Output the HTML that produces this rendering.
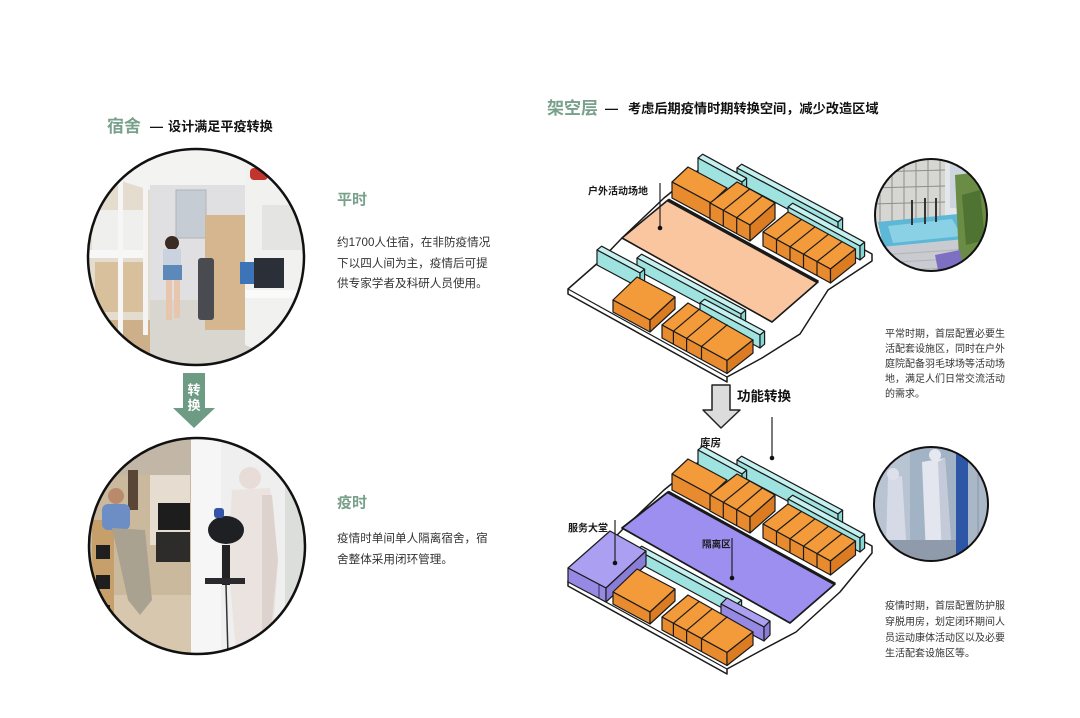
<!DOCTYPE html>
<html><head><meta charset="utf-8">
<style>
html,body{margin:0;padding:0;background:#fff;}
svg{display:block;}
text{font-family:"Liberation Sans","Noto Sans CJK SC",sans-serif;}
</style></head>
<body>
<svg width="1080" height="718" viewBox="0 0 1080 718" xmlns="http://www.w3.org/2000/svg">
<defs>
<clipPath id="c1"><circle cx="196" cy="257" r="108"/></clipPath>
<clipPath id="c2"><circle cx="197" cy="546" r="108"/></clipPath>
<clipPath id="c3"><circle cx="931" cy="215" r="56"/></clipPath>
<clipPath id="c4"><circle cx="931" cy="504" r="57"/></clipPath>
</defs>
<rect width="1080" height="718" fill="#fff"/>

<!-- ===== LEFT TITLES ===== -->
<text x="107" y="132" font-size="17" font-weight="bold" fill="#78a08b">宿舍</text>
<text x="150" y="131" font-size="13" font-weight="bold" fill="#111">—</text>
<text x="168" y="131" font-size="13.1" font-weight="bold" fill="#111">设计满足平疫转换</text>

<!-- ===== CIRCLE 1 ===== -->
<g clip-path="url(#c1)">
<rect x="85" y="145" width="225" height="225" fill="#e8e6e2"/>
<polygon points="85,145 310,145 262,205 150,205" fill="#f3f3f2"/>
<rect x="150" y="185" width="95" height="120" fill="#e0e0e2"/>
<rect x="176" y="190" width="30" height="48" fill="#c6ccd4" stroke="#b0b4ba"/>
<polygon points="150,300 245,300 270,370 120,370" fill="#d9d5cf"/>
<polygon points="85,170 150,190 150,320 85,370" fill="#e4dccf"/>
<rect x="92" y="210" width="55" height="40" fill="#efefed"/>
<rect x="88" y="250" width="60" height="8" fill="#f7f7f7"/>
<rect x="95" y="262" width="50" height="50" fill="#d8c09c"/>
<rect x="90" y="320" width="60" height="50" fill="#cdb089"/>
<rect x="118" y="175" width="5" height="190" fill="#f6f6f6"/>
<rect x="143" y="185" width="5" height="150" fill="#f4f4f4"/>
<rect x="205" y="215" width="42" height="115" fill="#d5b68e"/>
<polygon points="245,165 310,150 310,370 245,345" fill="#f1f1ef"/>
<rect x="262" y="205" width="40" height="45" fill="#e4e4e2"/>
<rect x="254" y="258" width="30" height="30" fill="#2b2f38"/>
<rect x="240" y="262" width="14" height="22" fill="#3d74b8"/>
<rect x="245" y="290" width="60" height="8" fill="#fafafa"/>
<rect x="250" y="168" width="18" height="12" rx="4" fill="#c3352c"/>
<circle cx="172" cy="243" r="7" fill="#3b2b22"/>
<rect x="163" y="249" width="18" height="18" fill="#c9d2de"/>
<rect x="163" y="265" width="19" height="15" fill="#5d88ba"/>
<rect x="166" y="280" width="6" height="40" fill="#e8c6ad"/>
<rect x="174" y="280" width="6" height="38" fill="#e8c6ad"/>
<rect x="198" y="258" width="16" height="62" rx="3" fill="#4a4b50"/>
</g>
<circle cx="196" cy="257" r="108" fill="none" stroke="#111" stroke-width="2.5"/>

<!-- ===== GREEN ARROW ===== -->
<rect x="183" y="373" width="22" height="36" fill="#6e9b84"/>
<polygon points="173,408 215,408 194,428" fill="#6e9b84"/>
<text x="194" y="394.5" font-size="13" font-weight="bold" fill="#fff" text-anchor="middle">转</text>
<text x="194" y="410" font-size="13" font-weight="bold" fill="#fff" text-anchor="middle">换</text>

<!-- ===== CIRCLE 2 ===== -->
<g clip-path="url(#c2)">
<rect x="85" y="435" width="230" height="225" fill="#efefef"/>
<rect x="85" y="435" width="106" height="225" fill="#cbb99e"/>
<rect x="85" y="435" width="106" height="40" fill="#c2b6a6"/>
<rect x="150" y="475" width="40" height="70" fill="#e6ddd0"/>
<rect x="158" y="503" width="32" height="27" fill="#1d1d1d"/>
<rect x="156" y="532" width="34" height="30" fill="#2e2c2a"/>
<rect x="85" y="595" width="106" height="65" fill="#d7c7ae"/>
<rect x="92" y="520" width="22" height="140" fill="#c79f6b"/>
<rect x="96" y="545" width="14" height="14" fill="#1f1f1f"/>
<rect x="96" y="575" width="14" height="14" fill="#1f1f1f"/>
<rect x="96" y="605" width="14" height="14" fill="#1f1f1f"/>
<rect x="128" y="470" width="10" height="40" fill="#5a4636"/>
<circle cx="116" cy="496" r="8" fill="#b98b6c"/>
<rect x="102" y="504" width="28" height="26" rx="6" fill="#6c8ec4"/>
<polygon points="112,528 145,530 152,600 140,615 128,600" fill="#aaa290"/>
<rect x="191" y="435" width="30" height="225" fill="#f6f6f6"/>
<rect x="285" y="435" width="30" height="225" fill="#dcdedc"/>
<circle cx="250" cy="478" r="11" fill="#e8dcd8"/>
<polygon points="232,490 270,488 278,560 272,650 236,650 228,560" fill="#ebe3df"/>
<polygon points="262,495 272,495 278,560 270,640 262,640" fill="#ddd2cd"/>
<ellipse cx="226" cy="530" rx="18" ry="14" fill="#1f2024"/>
<rect x="214" y="508" width="10" height="10" rx="3" fill="#3454a8"/>
<rect x="222" y="545" width="8" height="40" fill="#222"/>
<rect x="205" y="578" width="40" height="6" fill="#2a2a2e"/>
<line x1="226" y1="585" x2="228" y2="655" stroke="#333" stroke-width="1.5"/>
</g>
<circle cx="197" cy="546" r="108" fill="none" stroke="#111" stroke-width="2.5"/>

<!-- ===== LEFT TEXT ===== -->
<text x="337" y="204.5" font-size="15" font-weight="bold" fill="#78a08b">平时</text>
<text x="337" y="246" font-size="11.6" fill="#333">约1700人住宿，在非防疫情况</text>
<text x="337" y="267" font-size="11.6" fill="#333">下以四人间为主，疫情后可提</text>
<text x="337" y="287" font-size="11.6" fill="#333">供专家学者及科研人员使用。</text>

<text x="337" y="507.5" font-size="15" font-weight="bold" fill="#78a08b">疫时</text>
<text x="337" y="542" font-size="11.6" fill="#333">疫情时单间单人隔离宿舍，宿</text>
<text x="337" y="563" font-size="11.6" fill="#333">舍整体采用闭环管理。</text>

<!-- ===== RIGHT TITLE ===== -->
<text x="547" y="114" font-size="17" font-weight="bold" fill="#78a08b">架空层</text>
<text x="605" y="113" font-size="13" font-weight="bold" fill="#111">—</text>
<text x="628" y="113" font-size="13.2" font-weight="bold" fill="#111">考虑后期疫情时期转换空间，减少改造区域</text>

<!-- ===== UPPER DIAGRAM ===== -->
<g stroke="#1a1a1a" stroke-width="1.2" stroke-linejoin="round">
<polygon points="568,289 600,261 622,238 664,198 706,164 872,254 872,261 828,290 800,334 762,358 727,377 727,382 568,294" fill="#fff" stroke-width="1.5"/>
<line x1="568" y1="289" x2="727" y2="377"/>
<polygon points="668,200 818,282 772,322 622,238" fill="#f9c6a0" stroke-width="1.6"/>
<line x1="668" y1="200" x2="818" y2="282" stroke-width="3.5"/>

<polygon points="737,168 838,222 842.6,218.2 741.6,164.2" fill="#c4f1ef"/>
<polygon points="737,168 838,222 838,236 737,182" fill="#9fe3e1"/>
<polygon points="838,222 842.6,218.2 842.6,232.2 838,236" fill="#86d6d4"/>
<polygon points="698,158 742,182 746.6,178.2 702.6,154.2" fill="#c4f1ef"/>
<polygon points="698,158 742,182 742,200 698,176" fill="#9fe3e1"/>
<polygon points="742,182 746.6,178.2 746.6,196.2 742,200" fill="#86d6d4"/>
<polygon points="788,207 860,246 864.6,242.2 792.6,203.2" fill="#c4f1ef"/>
<polygon points="788,207 860,246 860,260 788,221" fill="#9fe3e1"/>
<polygon points="860,246 864.6,242.2 864.6,256.2 860,260" fill="#86d6d4"/>

<polygon points="672,182 711,203 727,188 688,167" fill="#f39a3b"/>
<polygon points="672,182 711,203 711,219 672,198" fill="#e88a2e"/>
<polygon points="710,203 750,225 775,203 737,182" fill="#f39a3b"/>
<polygon points="710,203 750,225 750,241 710,219" fill="#e88a2e"/>
<polygon points="750,225 775,203 775,219 750,241" fill="#dc7c22"/>
<line x1="723.3" y1="210.3" x2="749.7" y2="189"/>
<line x1="736.7" y1="217.7" x2="762.3" y2="196"/>
<line x1="723.3" y1="210.3" x2="723.3" y2="226.3"/>
<line x1="736.7" y1="217.7" x2="736.7" y2="233.7"/>

<polygon points="763,232 830.5,269 855.5,249 788,212" fill="#f39a3b"/>
<polygon points="763,232 830.5,269 830.5,283 763,246" fill="#e88a2e"/>
<polygon points="830.5,269 855.5,249 855.5,263 830.5,283" fill="#dc7c22"/>
<line x1="776.5" y1="239.4" x2="801.5" y2="219.4"/>
<line x1="790" y1="246.8" x2="815" y2="226.8"/>
<line x1="803.5" y1="254.2" x2="828.5" y2="234.2"/>
<line x1="817" y1="261.6" x2="842" y2="241.6"/>
<line x1="776.5" y1="239.4" x2="776.5" y2="253.4"/>
<line x1="790" y1="246.8" x2="790" y2="260.8"/>
<line x1="803.5" y1="254.2" x2="803.5" y2="268.2"/>
<line x1="817" y1="261.6" x2="817" y2="275.6"/>

<polygon points="637,258 741,314 745.6,310.2 641.6,254.2" fill="#c4f1ef"/>
<polygon points="637,258 741,314 741,326 637,270" fill="#9fe3e1"/>
<polygon points="741,314 745.6,310.2 745.6,322.2 741,326" fill="#86d6d4"/>
<polygon points="700,303 760,335 764.6,331.2 704.6,299.2" fill="#c4f1ef"/>
<polygon points="700,303 760,335 760,348 700,316" fill="#9fe3e1"/>
<polygon points="760,335 764.6,331.2 764.6,344.2 760,348" fill="#86d6d4"/>
<polygon points="597,250 640,273 644.6,269.2 601.6,246.2" fill="#c4f1ef"/>
<polygon points="597,250 640,273 640,288 597,265" fill="#9fe3e1"/>
<polygon points="640,273 644.6,269.2 644.6,284.2 640,288" fill="#86d6d4"/>

<polygon points="613,300 650,320 675,297 637,277" fill="#f39a3b"/>
<polygon points="613,300 650,320 650,332 613,312" fill="#e88a2e"/>
<polygon points="650,320 675,297 675,309 650,332" fill="#dc7c22"/>
<polygon points="662,325 727,360.5 753,340 688,303" fill="#f39a3b"/>
<polygon points="662,325 727,360.5 727,373.5 662,338" fill="#e88a2e"/>
<polygon points="727,360.5 753,340 753,353 727,373.5" fill="#dc7c22"/>
<line x1="673.4" y1="331.2" x2="699.4" y2="309.2"/>
<line x1="686.6" y1="338.4" x2="712.6" y2="316.4"/>
<line x1="701.5" y1="346.6" x2="727.5" y2="324.6"/>
<line x1="673.4" y1="331.2" x2="673.4" y2="344.2"/>
<line x1="686.6" y1="338.4" x2="686.6" y2="351.4"/>
<line x1="701.5" y1="346.6" x2="701.5" y2="359.6"/>
</g>
<text x="588" y="194.5" font-size="10" font-weight="bold" fill="#1a1a1a">户外活动场地</text>
<line x1="660" y1="183" x2="660" y2="228" stroke="#222" stroke-width="1.2"/>
<circle cx="660" cy="228" r="2.3" fill="#111"/>

<!-- ===== FUNCTION ARROW ===== -->
<polygon points="712,385 730,385 730,410 740,410 721,428 703,410 712,410" fill="#dcdcdc" stroke="#222" stroke-width="1.5" stroke-linejoin="round"/>
<text x="737" y="401" font-size="13.5" font-weight="bold" fill="#111">功能转换</text>
<text x="700" y="446" font-size="10.5" font-weight="bold" fill="#1a1a1a">库房</text>
<line x1="772" y1="417" x2="772" y2="458" stroke="#222" stroke-width="1.2"/>
<circle cx="772" cy="458" r="2.3" fill="#111"/>

<!-- ===== LOWER DIAGRAM ===== -->
<g stroke="#1a1a1a" stroke-width="1.2" stroke-linejoin="round">
<polygon points="568,581 600,553 622,530 664,490 706,456 872,546 872,553 840,592 796,632 762,650 727,669 727,674 568,586" fill="#fff" stroke-width="1.5"/>
<line x1="568" y1="581" x2="727" y2="669"/>
<polygon points="668,492 835,584 790,623 622,528" fill="#9c8ff0" stroke-width="1.8"/>
<line x1="668" y1="492" x2="835" y2="584" stroke-width="3"/>

<polygon points="737,460 838,514 842.6,510.2 741.6,456.2" fill="#c4f1ef"/>
<polygon points="737,460 838,514 838,528 737,474" fill="#9fe3e1"/>
<polygon points="838,514 842.6,510.2 842.6,524.2 838,528" fill="#86d6d4"/>
<polygon points="698,450 742,474 746.6,470.2 702.6,446.2" fill="#c4f1ef"/>
<polygon points="698,450 742,474 742,492 698,468" fill="#9fe3e1"/>
<polygon points="742,474 746.6,470.2 746.6,488.2 742,492" fill="#86d6d4"/>
<polygon points="788,499 860,538 864.6,534.2 792.6,495.2" fill="#c4f1ef"/>
<polygon points="788,499 860,538 860,552 788,513" fill="#9fe3e1"/>
<polygon points="860,538 864.6,534.2 864.6,548.2 860,552" fill="#86d6d4"/>

<polygon points="672,474 711,495 727,480 688,459" fill="#f39a3b"/>
<polygon points="672,474 711,495 711,511 672,490" fill="#e88a2e"/>
<polygon points="710,495 750,517 775,495 737,474" fill="#f39a3b"/>
<polygon points="710,495 750,517 750,533 710,511" fill="#e88a2e"/>
<polygon points="750,517 775,495 775,511 750,533" fill="#dc7c22"/>
<line x1="723.3" y1="502.3" x2="749.7" y2="481"/>
<line x1="736.7" y1="509.7" x2="762.3" y2="488"/>
<line x1="723.3" y1="502.3" x2="723.3" y2="518.3"/>
<line x1="736.7" y1="509.7" x2="736.7" y2="525.7"/>

<polygon points="763,524 830.5,561 855.5,541 788,504" fill="#f39a3b"/>
<polygon points="763,524 830.5,561 830.5,575 763,538" fill="#e88a2e"/>
<polygon points="830.5,561 855.5,541 855.5,555 830.5,575" fill="#dc7c22"/>
<line x1="776.5" y1="531.4" x2="801.5" y2="511.4"/>
<line x1="790" y1="538.8" x2="815" y2="518.8"/>
<line x1="803.5" y1="546.2" x2="828.5" y2="526.2"/>
<line x1="817" y1="553.6" x2="842" y2="533.6"/>
<line x1="776.5" y1="531.4" x2="776.5" y2="545.4"/>
<line x1="790" y1="538.8" x2="790" y2="552.8"/>
<line x1="803.5" y1="546.2" x2="803.5" y2="560.2"/>
<line x1="817" y1="553.6" x2="817" y2="567.6"/>

<polygon points="637,550 737,604 741.6,600.2 641.6,546.2" fill="#c4f1ef"/>
<polygon points="637,550 737,604 737,616 637,562" fill="#9fe3e1"/>
<polygon points="737,604 741.6,600.2 741.6,612.2 737,616" fill="#86d6d4"/>
<polygon points="727,598 770,621 764,627 721,604" fill="#ab9ff2"/>
<polygon points="721,604 764,627 764,641 721,618" fill="#9689e3"/>
<polygon points="764,627 770,621 770,635 764,641" fill="#8a7dd8"/>

<polygon points="568,568 606,588 646,551 610,531" fill="#ab9ff2"/>
<polygon points="568,568 606,588 606,602 568,582" fill="#9689e3"/>
<polygon points="606,588 646,551 646,565 606,602" fill="#8a7dd8"/>
<line x1="599" y1="584.5" x2="599" y2="598.5" stroke-width="0.8"/>

<polygon points="613,592 650,612 675,589 637,569" fill="#f39a3b"/>
<polygon points="613,592 650,612 650,624 613,604" fill="#e88a2e"/>
<polygon points="650,612 675,589 675,601 650,624" fill="#dc7c22"/>
<polygon points="662,617 727,652.5 753,632 688,595" fill="#f39a3b"/>
<polygon points="662,617 727,652.5 727,665.5 662,630" fill="#e88a2e"/>
<polygon points="727,652.5 753,632 753,645 727,665.5" fill="#dc7c22"/>
<line x1="673.4" y1="623.2" x2="699.4" y2="601.2"/>
<line x1="686.6" y1="630.4" x2="712.6" y2="608.4"/>
<line x1="701.5" y1="638.6" x2="727.5" y2="616.6"/>
<line x1="673.4" y1="623.2" x2="673.4" y2="636.2"/>
<line x1="686.6" y1="630.4" x2="686.6" y2="643.4"/>
<line x1="701.5" y1="638.6" x2="701.5" y2="651.6"/>
</g>
<text x="568" y="531.5" font-size="10" font-weight="bold" fill="#1a1a1a">服务大堂</text>
<line x1="615" y1="520" x2="615" y2="563" stroke="#222" stroke-width="1.2"/>
<circle cx="615" cy="563" r="2.3" fill="#111"/>
<text x="702" y="547.5" font-size="9.6" font-weight="bold" fill="#1a1a1a">隔离区</text>
<line x1="732" y1="538" x2="732" y2="578" stroke="#222" stroke-width="1.2"/>
<circle cx="732" cy="578" r="2.3" fill="#111"/>

<!-- ===== CIRCLE 3 (pool) ===== -->
<g clip-path="url(#c3)">
<rect x="870" y="155" width="125" height="125" fill="#e3e7ec"/>
<polygon points="870,155 945,155 945,220 870,230" fill="#d6d6d2"/>
<g stroke="#8e8e8c" stroke-width="1">
<line x1="880" y1="160" x2="880" y2="228"/><line x1="892" y1="160" x2="892" y2="226"/>
<line x1="904" y1="160" x2="904" y2="224"/><line x1="916" y1="160" x2="916" y2="223"/>
<line x1="928" y1="160" x2="928" y2="222"/><line x1="940" y1="160" x2="940" y2="221"/>
<line x1="870" y1="172" x2="945" y2="170"/><line x1="870" y1="188" x2="945" y2="186"/>
<line x1="870" y1="204" x2="945" y2="202"/>
</g>
<rect x="950" y="160" width="35" height="48" fill="#cdd5de"/>
<polygon points="878,222 958,214 972,240 884,250" fill="#5db7d6"/>
<polygon points="888,226 952,219 962,236 893,243" fill="#8ad1e5"/>
<polygon points="870,248 975,238 995,280 870,280" fill="#cacbd0"/>
<g stroke="#b2b3b8" stroke-width="1"><line x1="880" y1="255" x2="985" y2="248"/><line x1="880" y1="263" x2="988" y2="257"/><line x1="880" y1="271" x2="992" y2="266"/></g>
<polygon points="955,175 995,170 995,280 960,280" fill="#6a8c44"/>
<polygon points="962,195 980,190 985,240 966,245" fill="#4f7332"/>
<polygon points="935,255 960,250 965,280 940,280" fill="#7d6fc2"/>
<g stroke="#333" stroke-width="2"><line x1="912" y1="200" x2="912" y2="225"/><line x1="925" y1="198" x2="925" y2="224"/><line x1="936" y1="198" x2="936" y2="222"/></g>
</g>
<circle cx="931" cy="215" r="56" fill="none" stroke="#111" stroke-width="2"/>

<text font-size="10" fill="#333">
<tspan x="885" y="337">平常时期，首层配置必要生</tspan>
<tspan x="885" y="352">活配套设施区，同时在户外</tspan>
<tspan x="885" y="367">庭院配备羽毛球场等活动场</tspan>
<tspan x="885" y="382">地，满足人们日常交流活动</tspan>
<tspan x="885" y="397">的需求。</tspan>
</text>

<!-- ===== CIRCLE 4 ===== -->
<g clip-path="url(#c4)">
<rect x="870" y="443" width="125" height="125" fill="#a3b3c6"/>
<rect x="870" y="443" width="40" height="125" fill="#b9c4d2"/>
<polygon points="888,478 902,476 906,540 886,545" fill="#d6dae6"/>
<circle cx="893" cy="474" r="6" fill="#dde0ea"/>
<polygon points="922,462 945,458 952,555 938,560 926,555" fill="#e3e6ee"/>
<polygon points="938,462 945,458 952,555 942,558" fill="#c4cad8"/>
<circle cx="935" cy="455" r="6" fill="#e6e8ef"/>
<rect x="956" y="443" width="12" height="125" fill="#2d57a6"/>
<rect x="968" y="443" width="27" height="125" fill="#aab7c6"/>
<line x1="978" y1="443" x2="978" y2="568" stroke="#8796a8" stroke-width="1"/>
<rect x="870" y="540" width="86" height="30" fill="#8f9baa"/>
</g>
<circle cx="931" cy="504" r="57" fill="none" stroke="#111" stroke-width="2"/>

<text font-size="10" fill="#333">
<tspan x="885" y="609">疫情时期，首层配置防护服</tspan>
<tspan x="885" y="625">穿脱用房，划定闭环期间人</tspan>
<tspan x="885" y="641">员运动康体活动区以及必要</tspan>
<tspan x="885" y="656.5">生活配套设施区等。</tspan>
</text>
</svg>
</body></html>
